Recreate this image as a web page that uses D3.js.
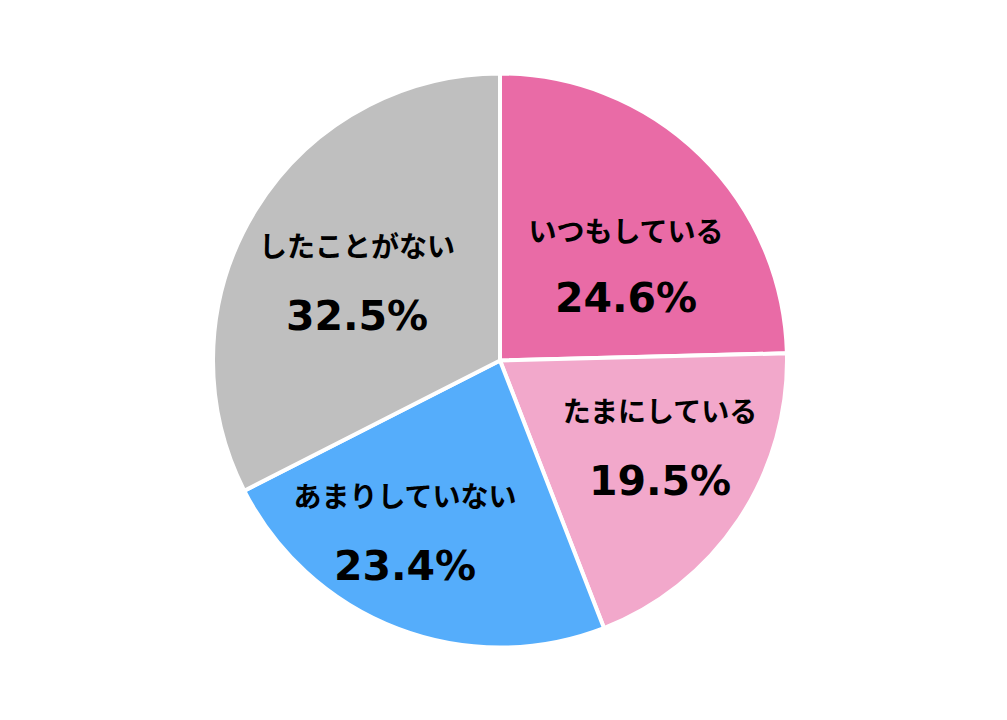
<!DOCTYPE html>
<html><head><meta charset="utf-8">
<script src="https://cdn.jsdelivr.net/npm/d3@7"></script>
<style>body{margin:0;background:#fff}</style>
</head><body>
<svg id="c" width="1007" height="720"></svg>
<script>
const categories = ["いつもしている","たまにしている","あまりしていない","したことがない"];
const values = [24.6, 19.5, 23.4, 32.5];
const colors = ["#E96BA6","#F2A8CB","#55ADFB","#BFBFBF"];
const labelPos = [[626,232,297],[660,412,480],[405,497,565],[357,247,315]];

const svg = d3.select("#c");
const cx = 500, cy = 360.5, r = 287;
const g = svg.append("g").attr("transform", `translate(${cx},${cy})`);
const pie = d3.pie().sort(null).value(d => d)(values);
const arc = d3.arc().innerRadius(0).outerRadius(r);
g.selectAll("path").data(pie).join("path")
  .attr("d", arc).attr("fill", (d,i) => colors[i])
  .attr("stroke", "#fff").attr("stroke-width", 4).attr("stroke-linejoin","miter");

const lg = svg.append("g").attr("text-anchor","middle").attr("fill","#000");
categories.forEach((c,i) => {
  const [x,y1,y2] = labelPos[i];
  lg.append("text").attr("x",x).attr("y",y1).attr("dy","0.35em").attr("font-size",28).attr("font-weight",700)
    .attr("font-family","'Noto Sans CJK JP', sans-serif").text(c);
  lg.append("text").attr("x",x).attr("y",y2).attr("dy","0.36em").attr("font-size",41).attr("font-weight",700)
    .attr("font-family","'DejaVu Sans', Verdana, sans-serif").text(values[i].toFixed(1) + "%");
});
</script>
</body></html>
